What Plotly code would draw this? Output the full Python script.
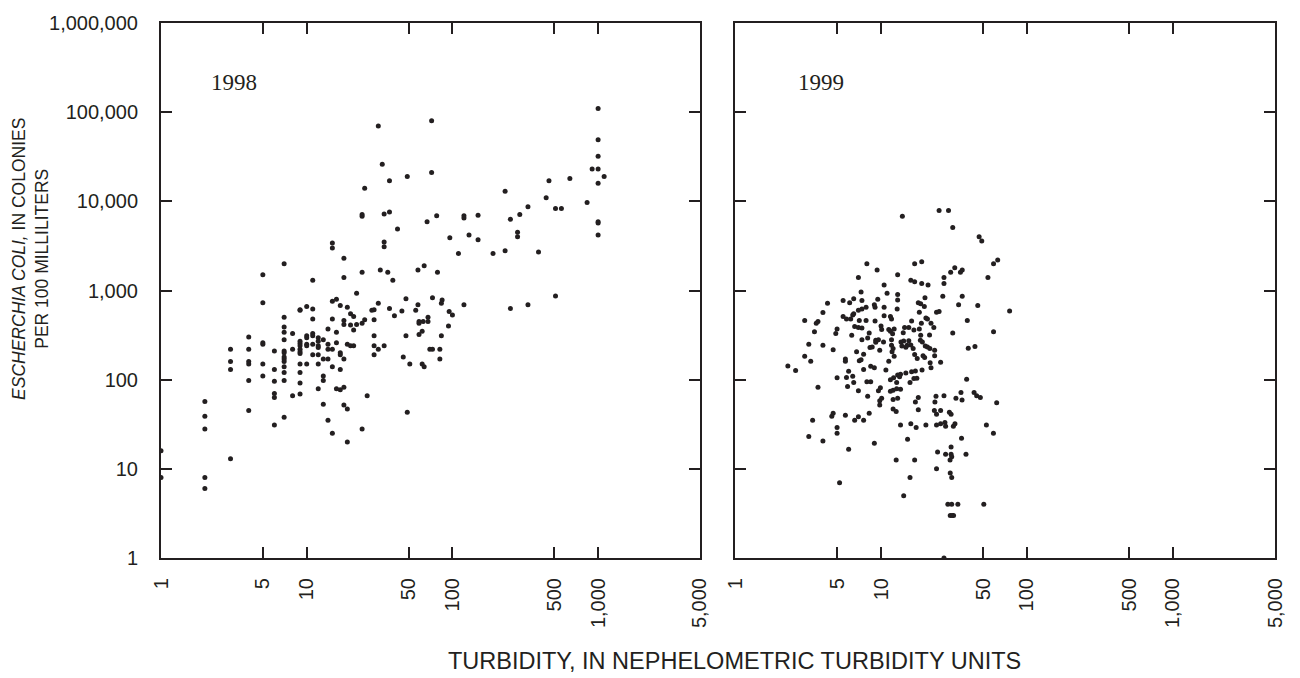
import plotly.graph_objects as go

# ---------------- data: 1998 ----------------
x1998 = [1000, 31, 72, 1000, 1000, 33, 910, 1000, 37, 49, 72, 1000, 1100, 460, 640, 25, 230, 440, 840, 330,
         510, 560, 24, 24, 34, 37, 290, 250, 1000, 1000, 1000, 67, 78, 42, 120, 120, 150, 96, 130, 150,
         280, 280, 34, 34, 15, 15, 18, 110, 190, 230, 390, 7, 5, 11, 18, 24, 32, 36, 39, 58, 64, 79,
         22, 5, 9, 9, 10, 11, 15, 16, 17, 19, 31, 28, 29, 37, 40, 45, 48, 56, 58, 73, 85, 84, 95, 100,
         120, 250, 330, 510, 20, 21, 15, 11, 7, 18, 18, 20, 22, 24, 25, 29, 21, 14, 16, 29, 48, 59, 59, 63,
         68, 68, 62, 59, 94, 84, 82, 82, 73, 70, 46, 51, 62, 64, 49, 29, 29, 31, 34, 26, 24,
         5, 5, 5, 5, 4, 4, 4, 4, 4, 4, 3, 3, 3, 3, 2, 2, 2, 2, 2, 1, 1,
         6, 6, 6, 6, 6, 6, 7, 7, 7, 7, 7, 7, 7, 7, 7, 7, 7, 7, 8, 8, 8,
         9, 9, 9, 9, 9, 9, 9, 9, 9, 9, 10, 10, 10, 10, 10, 11, 11, 11, 11,
         12, 12, 12, 12, 12, 12, 12, 13, 13, 13, 13, 13, 14, 14, 14, 14, 15, 15, 15,
         16, 16, 17, 17, 17, 17, 18, 18, 18, 19, 19, 19, 20, 21]
y1998 = [110000, 70000, 80000, 49000, 32000, 26000, 23000, 23000, 17000, 19000, 21000, 16000, 19000, 17000, 18000,
         14000, 13000, 11000, 9700, 8700, 8300, 8300, 7100, 6800, 7200, 7600, 7100, 6300, 5900, 5700, 4200,
         5900, 6900, 4900, 6900, 6500, 7000, 3900, 4200, 3700, 4500, 4000, 3500, 3100, 3400, 3000, 2300,
         2600, 2600, 2800, 2700, 2000, 1500, 1300, 1400, 1600, 1700, 1600, 1300, 1700, 1900, 1600,
         930, 730, 610, 600, 660, 620, 760, 800, 680, 650, 720, 600, 610, 630, 520, 590, 810, 600, 690, 830,
         780, 720, 580, 530, 690, 630, 690, 870, 550, 510, 480, 480, 500, 460, 415, 410, 415, 430, 470, 470,
         360, 370, 340, 310, 310, 450, 430, 450, 450, 500, 350, 320, 400, 310, 220, 170, 220, 220, 180, 150,
         150, 140, 43, 240, 190, 220, 240, 66, 28,
         260, 250, 150, 110, 300, 220, 160, 150, 98, 45, 220, 160, 130, 13, 57, 39, 28, 8, 6, 16, 8,
         210, 130, 96, 70, 63, 31, 390, 340, 280, 210, 200, 180, 170, 160, 140, 120, 98, 38, 330, 220, 66,
         270, 255, 240, 220, 205, 196, 150, 120, 92, 69, 310, 295, 250, 240, 150, 330, 310, 250, 190,
         295, 270, 240, 230, 190, 150, 79, 280, 170, 110, 98, 53, 250, 220, 170, 35, 220, 140, 25,
         260, 79, 200, 190, 130, 77, 170, 82, 52, 250, 47, 20, 240, 240]

# ---------------- data: 1999 ----------------
x1999 = [14, 25, 29, 31, 47, 49, 63, 59, 54, 8, 9.4, 7, 10.5, 13, 17, 19, 16, 17, 19, 21, 27, 27, 30, 32, 35, 36, 7.3,
         11, 13, 13, 20, 26.5, 36, 5.5, 6.1, 6.5, 7.4, 9.5, 4.3, 18, 18.7, 19.8, 7, 7.4, 7.9, 9, 9.1, 10.5, 12.9,
         46, 34, 18.3, 24, 25, 76, 4, 5.5, 5.8, 6.4, 6.5, 6.2, 7.1, 7.9, 9.1, 10.5, 11.6, 11.8, 16.2, 18.9, 20.3,
         20.8, 22, 39, 3, 3.7, 3.6, 6.6, 7, 7.4, 10, 10.1, 11.3, 11.6, 12.3, 14.5, 15.5, 16.8, 18.3, 23, 5, 4.9,
         3.5, 8.3, 6.3, 12, 14.2, 21.5, 31, 59, 18.7, 7.4, 8.1, 9.2, 9.6, 9.2, 10.4, 11.8, 13.7, 14.3, 15.5, 16,
         14.8, 18.6, 19.2, 16.6, 20.1, 20.8, 21.6, 23.3, 11.8, 12.1, 8.4, 8.7, 9.8, 4.7, 4, 3.2, 39.6, 44, 13.9,
         15.1, 6.8, 7.6, 3, 3.3, 5.7, 5.7, 7.1, 7.3, 11.3, 17, 17.7, 19.4, 19.9, 21.7, 25.6, 23.3, 11.9, 12.3,
         2.3, 2.6, 6, 7.6, 8.5, 9, 10.8, 13, 13.6, 14.8, 16.2, 17.2, 19.1, 22, 16.8, 5, 5.8, 6.4, 6.5, 5.9, 8,
         8.5, 9.9, 9.6, 11.6, 12.2, 12.8, 13.4, 15.8, 17.6, 3.7, 38.6, 7, 8.1, 9.8, 10.1, 11.6, 12.1, 12.8, 13.6,
         12.1, 13, 18, 17.2, 23.8, 27, 23.4, 32.6, 35.3, 35.9, 43.4, 45.2, 47.9, 62, 9.8, 12.1, 12.7, 18, 23.2,
         24, 25.6, 29.4, 30.2, 8.3, 7, 7.6, 6.6, 5.7, 4.7, 4.6, 3.4,
         5, 5, 3.2, 4, 6, 9, 13.6, 16, 17.4, 20.3, 24, 25.6, 27.4, 27.7, 31.3, 32.1, 52.7, 58.9, 35.6, 15.2,
         24.4, 27.7, 30.2, 30.2, 30.5, 29.7, 38.2, 12.7, 17, 24, 29.8, 30.5, 15.8, 5.2, 14.3, 28.7, 30.5, 33.6,
         50.6, 29.8, 30.7, 31.4, 27]
y1999 = [6800, 7900, 7900, 5100, 4000, 3600, 2200, 2000, 1400, 2000, 1700, 1400, 1150, 1500, 2000, 2100, 1300, 1250,
         1200, 1150, 1200, 1400, 1600, 1800, 1600, 1700, 960,
         930, 900, 780, 830, 860, 860, 770, 730, 810, 770, 800, 720, 730, 710, 660, 600, 620, 650, 690, 650, 650, 620,
         680, 690, 570, 570, 580, 590, 565, 510, 480, 530, 550, 480, 460, 460, 455, 520, 510, 480, 455, 430, 490,
         480, 430, 460, 460, 450, 430, 395, 385, 380, 400, 365, 365, 350, 370, 385, 385, 360, 370, 385, 370, 330,
         345, 333, 314, 327, 336, 316, 333, 344, 314, 281, 293, 276, 281, 262, 264, 281, 264, 271, 274, 245,
         231, 276, 264, 223, 239, 233, 223, 214, 243, 223, 229, 233, 214, 217, 243, 249, 225, 235, 239,
         243, 206, 193, 183, 161, 170, 161, 163, 167, 161, 191, 173, 186, 177, 155, 157, 185, 205, 183,
         142, 127, 124, 130, 141, 136, 128, 113, 115, 119, 123, 125, 128, 136, 103, 105, 106, 109, 93, 84, 95,
         95, 81, 75, 100, 105, 93, 108, 93, 104, 82, 101, 75, 65, 58, 62, 74, 76, 79, 78,
         60, 62, 63, 56, 65, 66, 56, 62, 72, 59, 72, 66, 63, 55, 52, 47, 44, 46, 45,
         41, 45, 43, 41, 42, 38.5, 35, 35, 40, 42, 39, 35,
         29, 25, 23, 20.5, 16.6, 19.4, 31, 32, 29, 31, 31, 32, 33, 30, 30, 32, 31, 25, 22, 21.5,
         15.4, 14.6, 17.6, 14.6, 13.7, 12.6, 14.6, 12.6, 12.6, 10, 9, 8, 8, 7, 5, 4, 4, 4,
         4, 3, 3, 3, 1]

x_tickvals = [1, 5, 10, 50, 100, 500, 1000, 5000]
x_ticktext = ["1", "5", "10", "50", "100", "500", "1,000", "5,000"]
y_tickvals = [1, 10, 100, 1000, 10000, 100000, 1000000]
y_ticktext = ["1", "10", "100", "1,000", "10,000", "100,000", "1,000,000"]
panel_labels = ["1998", "1999"]

INK = "#231f20"
FONT = "Liberation Sans, Arial, sans-serif"

fig = go.Figure()
marker = dict(color=INK, size=5, line=dict(width=0))
fig.add_trace(go.Scatter(x=x1998, y=y1998, mode="markers", marker=marker, xaxis="x", yaxis="y", showlegend=False))
fig.add_trace(go.Scatter(x=x1999, y=y1999, mode="markers", marker=marker, xaxis="x2", yaxis="y2", showlegend=False))

xcommon = dict(type="log", range=[0, 3.69897], tickvals=x_tickvals, ticktext=x_ticktext, tickangle=-90,
               ticks="inside", ticklen=11, tickwidth=1.5, tickcolor=INK, showline=True, linewidth=2,
               linecolor=INK, mirror="ticks", showgrid=False, zeroline=False,
               tickfont=dict(family=FONT, size=20, color=INK), ticklabelstandoff=10)
ycommon = dict(type="log", range=[0, 6], tickvals=y_tickvals, ticktext=y_ticktext,
               ticks="inside", ticklen=11, tickwidth=1.5, tickcolor=INK, showline=True, linewidth=2,
               linecolor=INK, mirror="ticks", showgrid=False, zeroline=False,
               tickfont=dict(family=FONT, size=20, color=INK), ticklabelstandoff=17)

fig.update_layout(
    width=1300, height=678,
    margin=dict(l=161, r=25, t=18, b=120),
    paper_bgcolor="white", plot_bgcolor="white",
    xaxis=dict(domain=[0, 0.4838], anchor="y", **xcommon),
    xaxis2=dict(domain=[0.5153, 1], anchor="y2", **xcommon),
    yaxis=dict(domain=[0, 1], anchor="x", **ycommon),
    yaxis2=dict(domain=[0, 1], anchor="x2", showticklabels=False, **{k: v for k, v in ycommon.items() if k not in ("tickfont", "ticklabelstandoff")}),
    font=dict(family=FONT, color=INK),
)

# panel year labels
serif = dict(family="Liberation Serif, Times New Roman, serif", size=23, color=INK)
fig.add_annotation(text=panel_labels[0], xref="x", yref="y", x=0.33, y=5.33, showarrow=False, xanchor="left",
                   yanchor="middle", font=serif)
fig.add_annotation(text=panel_labels[1], xref="x2", yref="y2", x=0.42, y=5.33, showarrow=False, xanchor="left",
                   yanchor="middle", font=serif)

# axis titles
fig.add_annotation(text="TURBIDITY, IN NEPHELOMETRIC TURBIDITY UNITS", xref="paper", yref="paper",
                   x=0.5, y=0, yshift=-103, xshift=16, showarrow=False, xanchor="center", yanchor="middle",
                   font=dict(family=FONT, size=23.5, color=INK))
fig.add_annotation(text="<i>ESCHERCHIA COLI,</i> IN COLONIES<br>PER 100 MILLILITERS", xref="paper", yref="paper",
                   x=0, y=0.559, xshift=-130, showarrow=False, textangle=-90, xanchor="center",
                   yanchor="middle", font=dict(family=FONT, size=17.5, color=INK))

fig.write_html("out.html")
